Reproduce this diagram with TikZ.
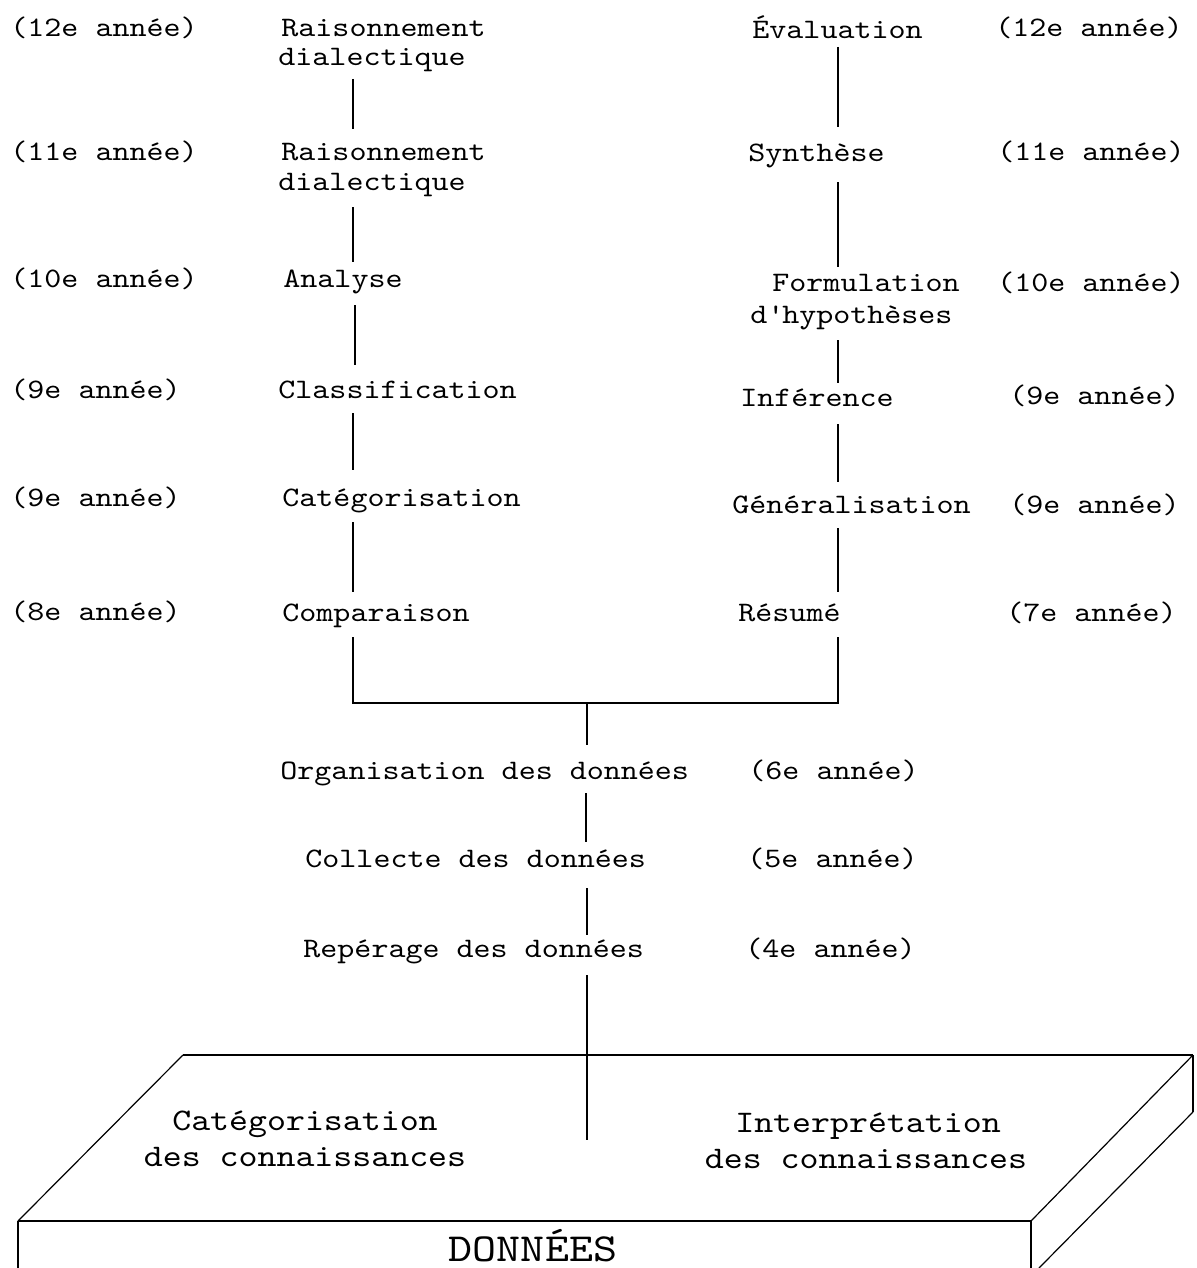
\documentclass[tikz,border=0pt]{standalone}
\usepackage{fontspec}
\newfontfamily\cour{lmmono10-regular.otf}[FakeStretch=1.15]
\begin{document}
\begin{tikzpicture}[x=0.5pt,y=-0.5pt,
  lbl/.style={inner sep=0pt,font=\cour\fontsize{14.1}{17}\selectfont},
  lw/.style={lbl,anchor=base west},
  le/.style={lbl,anchor=base east},
  slabtxt/.style={inner sep=0pt,anchor=base,font=\cour\fontsize{15.7}{19}\selectfont},
  conn/.style={line width=1pt},
  edge/.style={line width=1.4pt},
  slant/.style={line width=0.6pt}]
\useasboundingbox (0,0) rectangle (1197,1268);
% left column
\node[lw] (y12l) at (10,37) {(12e année)};
\node[lw] (rd1a) at (281,37) {Raisonnement};
\node[lw] (rd1b) at (278,66) {dialectique};
\node[lw] (y11l) at (10,160) {(11e année)};
\node[lw] (rd2a) at (281,161) {Raisonnement};
\node[lw] (rd2b) at (278,191) {dialectique};
\node[lw] (y10l) at (10,287) {(10e année)};
\node[lw] (ana) at (283,287) {Analyse};
\node[lw] (y9la) at (10,398) {(9e année)};
\node[lw] (cla) at (278,398) {Classification};
\node[lw] (y9lb) at (10,506) {(9e année)};
\node[lw] (cat) at (282,506) {Catégorisation};
\node[lw] (y8l) at (10,620) {(8e année)};
\node[lw] (com) at (282,621) {Comparaison};
% right column
\node[lw] (eva) at (752,39) {Évaluation};
\node[le] (y12r) at (1183,37) {(12e année)};
\node[lw] (syn) at (748,162) {Synthèse};
\node[le] (y11r) at (1185,161) {(11e année)};
\node[lw] (fora) at (772,291) {Formulation};
\node[lw] (forb) at (750,323) {d\textquotesingle hypothèses};
\node[le] (y10r) at (1185,291) {(10e année)};
\node[lw] (inf) at (740,406) {Inférence};
\node[le] (y9ra) at (1180,404) {(9e année)};
\node[lw] (gen) at (732,513) {Généralisation};
\node[le] (y9rb) at (1180,513) {(9e année)};
\node[lw] (res) at (738,621) {Résumé};
\node[le] (y7r) at (1177,621) {(7e année)};
% centre
\node[lw] (org) at (280,779) {Organisation des données};
\node[lw] (y6) at (748,779) {(6e année)};
\node[lw] (col) at (305,867) {Collecte des données};
\node[lw] (y5) at (747,867) {(5e année)};
\node[lw] (rep) at (303,957) {Repérage des données};
\node[lw] (y4) at (745,957) {(4e année)};
% connector end points
\coordinate (l1a) at (353,79);  \coordinate (l1b) at (353,129);
\coordinate (l2a) at (353,207); \coordinate (l2b) at (353,262);
\coordinate (l3a) at (355,305); \coordinate (l3b) at (355,365);
\coordinate (l4a) at (353,413); \coordinate (l4b) at (353,470);
\coordinate (l5a) at (353,522); \coordinate (l5b) at (353,592);
\coordinate (l6a) at (353,637); \coordinate (l6b) at (353,703);
\coordinate (r1a) at (838,47);  \coordinate (r1b) at (838,127);
\coordinate (r2a) at (838,182); \coordinate (r2b) at (838,267);
\coordinate (r3a) at (838,340); \coordinate (r3b) at (838,383);
\coordinate (r4a) at (838,424); \coordinate (r4b) at (838,482);
\coordinate (r5a) at (838,528); \coordinate (r5b) at (838,592);
\coordinate (r6a) at (838,637); \coordinate (r6b) at (838,703);
\coordinate (c1a) at (587,703); \coordinate (c1b) at (587,745);
\coordinate (c2a) at (586,793); \coordinate (c2b) at (586,842);
\coordinate (c3a) at (587,888); \coordinate (c3b) at (587,935);
\coordinate (c4a) at (587,975); \coordinate (c4b) at (587,1140);
\foreach \p in {l1,l2,l3,l4,l5,r1,r2,r3,r4,r5,c1,c2,c3,c4}
  \draw[conn] (\p a) -- (\p b);
\draw[conn] (l6a) -- (l6b) -- (r6b) -- (r6a);
% slab
\coordinate (tbl) at (183,1055);
\coordinate (tbr) at (1193,1055);
\coordinate (ftl) at (18,1221);
\coordinate (ftr) at (1031,1221);
\coordinate (rbk) at (1193,1112);
\coordinate (rlo) at (1039,1268);
\coordinate (fbl) at (18,1268);
\coordinate (fbr) at (1031,1268);
\draw[edge] (tbl) -- (tbr);
\draw[edge] (ftl) -- (ftr);
\draw[slant] (tbl) -- (ftl);
\draw[slant] (tbr) -- (ftr);
\draw[slant] (rbk) -- (rlo);
\draw[conn] (tbr) -- (rbk);
\draw[conn] (ftl) -- (fbl);
\draw[conn] (ftr) -- (fbr);
\node[slabtxt] (ck1) at (305,1130) {Catégorisation};
\node[slabtxt] (ck2) at (305,1166) {des connaissances};
\node[slabtxt] (ik1) at (868,1132) {Interprétation};
\node[slabtxt] (ik2) at (866,1168) {des connaissances};
\node[inner sep=0pt,anchor=base,font=\cour\fontsize{19.9}{24}\selectfont] (don) at (533,1261) {DONNÉES};
\end{tikzpicture}
\end{document}
